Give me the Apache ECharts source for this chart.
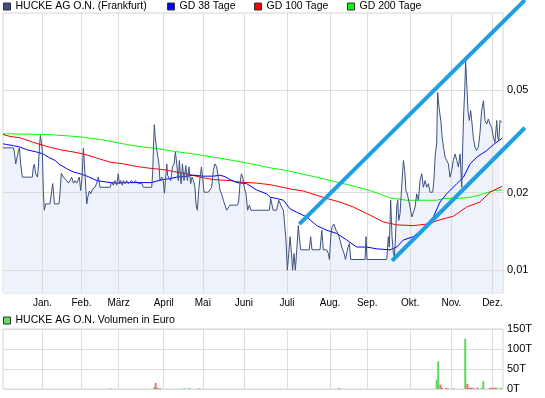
<!DOCTYPE html>
<html><head><meta charset="utf-8">
<script src="https://cdn.jsdelivr.net/npm/echarts@6/dist/echarts.min.js"></script>
<style>html,body{margin:0;padding:0;background:#fff}#c{width:545px;height:398px}</style>
</head><body><div id="c"></div>
<script>
// ---- tick labels / categories ----
const monthNames = ['Jan.','Feb.','März','April','Mai','Juni','Juli','Aug.','Sep.','Okt.','Nov.','Dez.'];
const monthStarts = [0,20,39,62,82,103,125,147,166,188,209,230];   // trading-day index of month start
const priceTicks = [0.01,0.02,0.05];
const priceTickLabels = ['0,01','0,02','0,05'];

// ---- price (EUR) by trading-day index ----
const priceDays = [-20.1,-14.8,-14.3,-13.6,-12.8,-12.2,-11.7,-11.1,-10.2,-5.1,-4.6,-4.1,-3.4,-2.5,-2.0,-1.5,-1.0,-0.5,0.0,0.5,1.0,1.7,3.9,4.8,5.3,6.2,8.5,9.0,9.7,10.7,11.6,12.5,13.3,14.2,15.0,15.9,16.7,17.6,18.9,19.6,20.3,21.0,22.0,22.7,23.2,24.0,24.7,25.7,26.9,27.8,28.6,29.5,34.6,35.4,36.3,37.1,38.0,38.8,39.4,40.0,40.9,41.4,42.3,43.1,43.9,45.7,46.5,47.4,49.1,50.8,51.6,55.9,56.4,56.9,57.2,57.7,58.4,59.1,59.6,60.1,61.0,61.8,62.4,62.9,63.6,64.0,64.9,65.6,66.5,67.3,68.0,68.7,69.5,70.0,70.9,71.6,72.4,73.3,74.1,74.9,75.8,76.5,77.2,78.0,78.5,79.2,79.9,80.6,81.3,81.9,82.6,84.8,85.7,86.5,87.4,88.2,89.1,89.9,90.8,91.6,92.5,93.3,94.2,95.2,95.9,99.7,100.3,101.0,101.7,102.4,103.2,104.1,104.9,105.8,106.6,116.0,116.7,117.4,118.0,119.7,120.8,121.5,122.3,123.2,124.0,124.5,125.2,125.9,126.6,127.3,127.9,128.6,129.3,130.0,130.8,131.3,132.0,136.4,137.1,137.8,141.9,142.8,143.6,145.3,146.2,146.7,147.4,148.0,149.0,150.1,151.1,152.1,153.0,154.2,154.9,155.5,156.2,156.9,157.6,164.9,165.4,165.9,176.0,176.8,177.3,178.0,178.7,179.4,179.9,180.4,181.1,181.6,182.1,182.8,183.6,184.5,185.2,185.8,186.5,187.2,187.9,188.8,189.6,190.5,191.3,192.2,193.0,193.9,194.7,195.6,196.4,197.3,198.1,199.5,200.2,200.8,201.5,202.0,202.7,203.6,204.3,205.0,205.8,206.6,207.5,208.3,209.2,210.0,210.9,211.8,212.6,213.5,214.3,214.8,215.3,215.9,216.3,216.8,217.5,218.2,218.9,219.6,220.2,221.1,221.9,222.8,223.6,224.5,225.4,226.2,227.1,227.9,228.8,229.6,230.5,231.3,232.2,232.7,233.2,233.9,234.7];
const priceValues = [0.0299,0.0299,0.0288,0.0259,0.0259,0.0292,0.0299,0.0259,0.0230,0.0230,0.0252,0.0258,0.0237,0.0230,0.0252,0.0301,0.0334,0.0339,0.0292,0.0204,0.0171,0.0181,0.0181,0.0204,0.0217,0.0181,0.0181,0.0198,0.0238,0.0230,0.0230,0.0223,0.0218,0.0223,0.0230,0.0218,0.0223,0.0218,0.0230,0.0204,0.0230,0.0299,0.0299,0.0181,0.0192,0.0203,0.0198,0.0207,0.0210,0.0218,0.0230,0.0210,0.0210,0.0220,0.0214,0.0223,0.0214,0.0237,0.0217,0.0223,0.0214,0.0223,0.0217,0.0223,0.0217,0.0223,0.0218,0.0223,0.0217,0.0218,0.0210,0.0210,0.0241,0.0319,0.0368,0.0329,0.0296,0.0301,0.0259,0.0223,0.0230,0.0223,0.0199,0.0223,0.0259,0.0234,0.0230,0.0223,0.0252,0.0259,0.0288,0.0259,0.0223,0.0267,0.0217,0.0259,0.0223,0.0255,0.0223,0.0252,0.0217,0.0230,0.0223,0.0210,0.0181,0.0171,0.0204,0.0230,0.0252,0.0230,0.0201,0.0201,0.0204,0.0210,0.0244,0.0259,0.0252,0.0230,0.0204,0.0198,0.0187,0.0184,0.0171,0.0171,0.0179,0.0179,0.0184,0.0217,0.0237,0.0230,0.0210,0.0198,0.0171,0.0179,0.0171,0.0171,0.0190,0.0179,0.0171,0.0171,0.0187,0.0187,0.0176,0.0171,0.0171,0.0131,0.0100,0.0116,0.0135,0.0116,0.0100,0.0116,0.0100,0.0120,0.0149,0.0135,0.0120,0.0120,0.0135,0.0120,0.0120,0.0143,0.0120,0.0120,0.0116,0.0110,0.0135,0.0147,0.0151,0.0143,0.0139,0.0131,0.0123,0.0116,0.0110,0.0110,0.0123,0.0127,0.0110,0.0110,0.0135,0.0110,0.0110,0.0135,0.0123,0.0187,0.0135,0.0116,0.0113,0.0131,0.0176,0.0187,0.0156,0.0166,0.0210,0.0267,0.0244,0.0204,0.0198,0.0187,0.0176,0.0161,0.0161,0.0176,0.0198,0.0187,0.0223,0.0237,0.0210,0.0223,0.0210,0.0217,0.0201,0.0201,0.0230,0.0283,0.0310,0.0491,0.0430,0.0382,0.0329,0.0301,0.0275,0.0275,0.0259,0.0230,0.0244,0.0267,0.0283,0.0267,0.0252,0.0283,0.0210,0.0301,0.0405,0.0514,0.0655,0.0545,0.0417,0.0382,0.0417,0.0370,0.0329,0.0301,0.0292,0.0301,0.0339,0.0417,0.0456,0.0382,0.0370,0.0387,0.0370,0.0359,0.0329,0.0314,0.0382,0.0329,0.0319,0.0382,0.0376];

// ---- moving averages ----
const gd38Days = [-20.1,-18.2,-14.8,-11.4,-8.0,-2.9,0.5,3.1,6.5,9.0,12.5,15.9,20.1,23.5,27.8,32.9,38.0,43.1,49.9,55.9,58.4,61.8,65.2,68.7,72.1,77.2,82.3,87.4,90.8,93.3,95.9,99.3,104.4,109.5,114.6,116.4,119.8,123.2,126.6,130.0,135.1,140.2,145.3,150.4,155.5,160.6,165.8,170.9,177.7,181.1,184.5,189.6,194.7,199.8,203.2,206.6,211.8,215.2,218.6,222.0,227.1,230.5,235.0];
const gd38Values = [0.0310,0.0308,0.0305,0.0301,0.0294,0.0288,0.0283,0.0275,0.0267,0.0257,0.0248,0.0241,0.0236,0.0231,0.0223,0.0220,0.0218,0.0219,0.0219,0.0219,0.0222,0.0225,0.0227,0.0230,0.0231,0.0234,0.0232,0.0232,0.0234,0.0231,0.0225,0.0219,0.0217,0.0205,0.0198,0.0192,0.0190,0.0187,0.0173,0.0168,0.0161,0.0149,0.0143,0.0139,0.0131,0.0123,0.0123,0.0121,0.0120,0.0123,0.0131,0.0135,0.0145,0.0161,0.0184,0.0198,0.0217,0.0230,0.0259,0.0275,0.0292,0.0308,0.0326];
const gd100Days = [-20.1,-16.5,-11.4,-4.6,2.2,9.0,15.9,21.0,27.8,34.6,41.4,48.2,55.0,61.8,66.9,73.7,80.6,87.4,95.9,101.0,109.5,116.4,126.6,133.4,145.3,152.1,158.9,165.8,174.3,181.1,189.6,196.4,203.2,210.0,216.8,223.6,228.8,235.0];
const gd100Values = [0.0337,0.0331,0.0327,0.0314,0.0303,0.0294,0.0288,0.0283,0.0273,0.0263,0.0259,0.0253,0.0249,0.0246,0.0242,0.0237,0.0230,0.0225,0.0223,0.0220,0.0218,0.0215,0.0207,0.0203,0.0190,0.0184,0.0176,0.0166,0.0154,0.0150,0.0149,0.0151,0.0157,0.0162,0.0176,0.0184,0.0201,0.0212];
const gd200Days = [-20.1,2.2,12.5,21.0,32.9,43.1,51.6,58.4,66.9,77.2,87.4,97.6,107.8,116.4,124.9,133.4,145.3,157.2,167.5,177.7,186.2,193.0,201.5,205.0,211.8,218.6,225.4,230.5,235.0];
const gd200Values = [0.0339,0.0337,0.0333,0.0329,0.0319,0.0308,0.0301,0.0297,0.0290,0.0283,0.0275,0.0267,0.0258,0.0250,0.0244,0.0236,0.0225,0.0214,0.0204,0.0191,0.0187,0.0187,0.0187,0.0190,0.0190,0.0192,0.0198,0.0204,0.0205];

// ---- drawn trend channel (extends past the plot edge) ----
const trendUpperDays = [131.3, 246.6];
const trendUpperValues = [0.01511, 0.1123];
const trendLowerDays = [178.7, 246.6];
const trendLowerValues = [0.01088, 0.0358];

// ---- volume (thousand EUR) ----
const volUpDays = [34.7,57.1,72.6,75.1,80.2,201.5,202.3,207.3,216.1,224.3,225.3,232.2,234.2];
const volUpValues = [2,4,2,2,2,23,69,2,126,2,19,3,3];
const volDownDays = [57.9,58.8,60.1,151.8,203.4,204.2,206.4,217.2,218.0,219.1,220.2,222.3,228.8,229.6,230.5,231.3];
const volDownValues = [15,3,2,2,11,3,3,13,3,3,3,3,3,3,3,3];
const volFlatDays = [210.2];
const volFlatValues = [2];

const zip = (xs, ys) => xs.map((x, i) => [x, ys[i]]);
const FONT = '"Liberation Sans", Arial, sans-serif';
const N_PRICE = 'HUCKE AG O.N. (Frankfurt)';
const N_VOL = 'HUCKE AG O.N. Volumen in Euro';
const GRIDC = '#dcdcdc';

// layout of the main plot
const W = 545, H = 398;
const PL = 3, PT = 13, PW = 500, PH = 280;
const XMIN = -20.1, XMAX = 235.4;
const YMIN = 0.00815, YMAX = 0.1;
// overlay axes spanning the whole canvas with the same scale as the main plot (for the drawn channel lines)
const kx = (XMAX - XMIN) / PW;
const ly = (Math.log10(YMAX) - Math.log10(YMIN)) / PH;
const OX_MIN = XMIN - PL * kx, OX_MAX = XMAX + (W - PL - PW) * kx;
const OY_MAX = Math.pow(10, Math.log10(YMAX) + PT * ly);
const OY_MIN = Math.pow(10, Math.log10(YMIN) - (H - PT - PH) * ly);

const legendBase = {
  top: 1, itemWidth: 7, itemHeight: 7, itemGap: 0, icon: 'rect', selectedMode: false, padding: 0,
  textStyle: { fontFamily: FONT, fontSize: 10.5, color: '#000' },
  itemStyle: { borderColor: '#333', borderWidth: 1 }
};

const monthLines = (withLabel) => monthStarts.map((d, i) => ({
  xAxis: d,
  label: withLabel ? { show: true, position: 'start', formatter: monthNames[i], fontSize: 10, distance: 5 } : { show: false }
}));

const chart = echarts.init(document.getElementById('c'), null, { renderer: 'canvas' });
chart.setOption({
  animation: false,
  textStyle: { fontFamily: FONT },
  legend: [
    Object.assign({}, legendBase, { left: 3, data: [{ name: N_PRICE, itemStyle: { color: '#3d5280' } }] }),
    Object.assign({}, legendBase, { left: 167, data: [{ name: 'GD 38 Tage', itemStyle: { color: '#0000ff' } }] }),
    Object.assign({}, legendBase, { left: 254, data: [{ name: 'GD 100 Tage', itemStyle: { color: '#ff0000' } }] }),
    Object.assign({}, legendBase, { left: 347, data: [{ name: 'GD 200 Tage', itemStyle: { color: '#00ff00' } }] }),
    Object.assign({}, legendBase, { left: 3, top: 315, data: [{ name: N_VOL, itemStyle: { color: '#66dd66' } }] })
  ],
  grid: [
    { left: PL, top: PT, width: PW, height: PH, show: true, borderColor: '#d4d4d4', borderWidth: 1, backgroundColor: '#fff' },
    { left: 3, top: 329, width: 500, height: 60, show: true, borderColor: '#d4d4d4', borderWidth: 1, backgroundColor: '#fff' },
    { left: 0, top: 0, width: W, height: H, show: false }
  ],
  xAxis: [
    { type: 'value', gridIndex: 0, min: XMIN, max: XMAX, show: false },
    { type: 'value', gridIndex: 1, min: XMIN, max: XMAX, show: false },
    { type: 'value', gridIndex: 2, min: OX_MIN, max: OX_MAX, show: false }
  ],
  yAxis: [
    { type: 'log', logBase: 10, gridIndex: 0, min: YMIN, max: YMAX, show: false },
    { type: 'value', gridIndex: 1, min: 0, max: 150, interval: 50, position: 'right',
      axisLine: { show: false }, axisTick: { show: false },
      axisLabel: { formatter: v => v + 'T', margin: 4, fontSize: 11, color: '#000', fontFamily: FONT },
      splitLine: { show: true, lineStyle: { color: GRIDC, width: 1 } } },
    { type: 'log', logBase: 10, gridIndex: 2, min: OY_MIN, max: OY_MAX, show: false }
  ],
  series: [
    { name: 'fill', type: 'line', xAxisIndex: 0, yAxisIndex: 0, data: zip(priceDays, priceValues),
      symbol: 'none', lineStyle: { width: 0 }, areaStyle: { color: '#eef2fa', opacity: 1, origin: 'start' }, z: 1, silent: true },
    { name: 'grid', type: 'line', xAxisIndex: 0, yAxisIndex: 0, data: [], z: 2, silent: true,
      markLine: { silent: true, symbol: 'none', z: 2, animation: false,
        lineStyle: { color: GRIDC, width: 1, type: 'solid' },
        label: { color: '#000', fontSize: 11, fontFamily: FONT, distance: 4 },
        emphasis: { disabled: true },
        data: monthLines(true).concat(priceTicks.map((v, i) => ({ yAxis: v, label: { show: true, position: 'end', formatter: priceTickLabels[i] } }))) } },
    { name: 'GD 200 Tage', type: 'line', data: zip(gd200Days, gd200Values), symbol: 'none', lineStyle: { width: 1, color: '#00ff00' }, itemStyle: { color: '#00ff00' }, z: 3 },
    { name: 'GD 100 Tage', type: 'line', data: zip(gd100Days, gd100Values), symbol: 'none', lineStyle: { width: 1, color: '#ff0000' }, itemStyle: { color: '#ff0000' }, z: 3 },
    { name: 'GD 38 Tage', type: 'line', data: zip(gd38Days, gd38Values), symbol: 'none', lineStyle: { width: 1, color: '#0000ff' }, itemStyle: { color: '#0000ff' }, z: 3 },
    { name: N_PRICE, type: 'line', data: zip(priceDays, priceValues), symbol: 'none', lineStyle: { width: 1, color: '#3d5280' }, itemStyle: { color: '#3d5280' }, z: 4 },
    { name: 'trendUpper', type: 'line', xAxisIndex: 2, yAxisIndex: 2, data: zip(trendUpperDays, trendUpperValues), symbol: 'none', lineStyle: { width: 4, color: '#1e9fe3' }, z: 5, silent: true },
    { name: 'trendLower', type: 'line', xAxisIndex: 2, yAxisIndex: 2, data: zip(trendLowerDays, trendLowerValues), symbol: 'none', lineStyle: { width: 4, color: '#1e9fe3' }, z: 5, silent: true },
    { name: 'vgrid', type: 'line', xAxisIndex: 1, yAxisIndex: 1, data: [], silent: true, z: 1,
      markLine: { silent: true, symbol: 'none', z: 1, animation: false, lineStyle: { color: GRIDC, width: 1, type: 'solid' }, emphasis: { disabled: true }, data: monthLines(false) } },
    { name: N_VOL, type: 'bar', xAxisIndex: 1, yAxisIndex: 1, data: zip(volUpDays, volUpValues), barWidth: 2, barGap: '-100%', itemStyle: { color: '#5ed65e' }, z: 3 },
    { name: 'volDown', type: 'bar', xAxisIndex: 1, yAxisIndex: 1, data: zip(volDownDays, volDownValues), barWidth: 2, barGap: '-100%', itemStyle: { color: '#ee6b6b' }, z: 3 },
    { name: 'volFlat', type: 'bar', xAxisIndex: 1, yAxisIndex: 1, data: zip(volFlatDays, volFlatValues), barWidth: 2, barGap: '-100%', itemStyle: { color: '#b0b0b0' }, z: 3 }
  ]
});
</script></body></html>
